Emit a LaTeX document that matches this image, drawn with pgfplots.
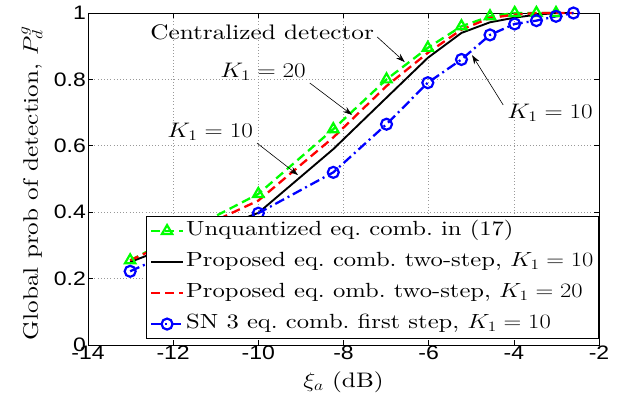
\documentclass[border=0pt]{standalone}
\usepackage{fix-cm}
\usepackage{graphicx}
\usepackage{pgfplots}
\pgfplotsset{compat=1.18}
\usepackage{fontspec}
\setmainfont{lmroman10-regular.otf}[FakeStretch=1.2]
\newfontfamily\arial{Liberation Sans}[FakeStretch=1.18]
\usetikzlibrary{arrows.meta}
% math is not stretched by FakeStretch, so widen it by hand
\newcommand{\m}[1]{\scalebox{1.2}[1]{$#1$}}

\begin{document}
\begin{tikzpicture}
\begin{axis}[
  name=ax,
  scale only axis,
  width=511pt, height=332pt,
  xmin=-14, xmax=-2, ymin=0, ymax=1,
  xtick={-14,-12,-10,-8,-6,-4,-2},
  ytick={0,0.2,0.4,0.6,0.8,1},
  xticklabels={-14,-12,-10,-8,-6,-4,-2},
  yticklabels={0,0.2,0.4,0.6,0.8,1},
  ticklabel style={font=\fontsize{19.5}{21}\arial},
  xticklabel style={inner sep=1pt},
  yticklabel style={inner sep=2pt},
  tick align=inside,
  major tick length=5pt,
  tick style={black, line width=0.6pt},
  grid=major,
  grid style={dash pattern=on 0.6pt off 2.6pt, black!40, line width=0.6pt},
  axis line style={line width=0.9pt},
  xlabel={\m{\xi_a} (dB)},
  ylabel={Global prob of detection, \m{P_d^g}},
  label style={font=\fontsize{21}{24}\selectfont},
  xlabel style={at={(axis description cs:0.5,-0.111)}, anchor=center},
  ylabel style={at={(axis description cs:-0.1096,0.487)}, anchor=center},
  clip=false,
  legend cell align=left,
  legend image code/.code={\draw[mark repeat=2,mark phase=2] plot coordinates {(0pt,0pt)(16pt,0pt)(32pt,0pt)};},
  legend style={at={(axis description cs:1,0.018)}, anchor=south east,
    font=\fontsize{20.5}{22}\selectfont, draw=black, line width=0.9pt,
    row sep=8pt, inner sep=3pt,
    nodes={text height=14pt, text depth=5pt, inner sep=2pt}},
]
\addplot[green, line width=2.3pt, dash pattern=on 9pt off 5pt,
  mark=triangle, mark size=6pt, mark options={solid, line width=2.2pt}]
  coordinates {(-13.01,0.255) (-10,0.455) (-8.24,0.65) (-6.99,0.80) (-6.02,0.895)
    (-5.23,0.96) (-4.56,0.99) (-3.98,1.0) (-3.47,1.0) (-3.01,1.0)};
\addlegendentry{Unquantized eq.\ comb.\ in (17)}
\addplot[black, line width=1.9pt]
  coordinates {(-13.01,0.25) (-10,0.398) (-8.24,0.59) (-6.99,0.745) (-6.02,0.865)
    (-5.23,0.94) (-4.56,0.972) (-3.98,0.986) (-3.47,0.995) (-3.01,1.0) (-2.60,1.0)};
\addlegendentry{Proposed eq.\ comb.\ two-step, \m{K_1=10}}
\addplot[red, line width=2.3pt, dash pattern=on 9pt off 5pt]
  coordinates {(-13.01,0.255) (-10,0.435) (-8.24,0.625) (-6.99,0.78) (-6.02,0.88)
    (-5.23,0.95) (-4.56,0.985) (-3.98,0.995) (-3.47,1.0) (-3.01,1.0) (-2.60,1.0)};
\addlegendentry{Proposed eq.\ omb.\ two-step, \m{K_1=20}}
\addplot[blue, line width=2.3pt, dash pattern=on 10pt off 4pt on 2pt off 4pt,
  mark=o, mark size=5.5pt, mark options={solid, line width=2.2pt}]
  coordinates {(-13.01,0.222) (-10,0.397) (-8.24,0.52) (-6.99,0.665) (-6.02,0.79)
    (-5.23,0.86) (-4.56,0.934) (-3.98,0.967) (-3.47,0.977) (-3.01,0.99) (-2.60,1.0)};
\addlegendentry{SN 3 eq.\ comb.\ first step, \m{K_1=10}}

\node[font=\fontsize{21}{24}\selectfont] at (axis cs:-9.91,0.943) {Centralized detector};
\draw[-{Stealth[length=9pt,width=6pt]}, line width=0.6pt] (axis cs:-7.21,0.928) -- (axis cs:-6.56,0.852);
\node[font=\fontsize{21}{24}\selectfont] at (axis cs:-9.89,0.822) {\m{K_1=20}};
\draw[-{Stealth[length=9pt,width=6pt]}, line width=0.6pt] (axis cs:-8.79,0.789) -- (axis cs:-7.80,0.693);
\node[font=\fontsize{21}{24}\selectfont] at (axis cs:-11.13,0.642) {\m{K_1=10}};
\draw[-{Stealth[length=9pt,width=6pt]}, line width=0.6pt] (axis cs:-10.03,0.608) -- (axis cs:-9.07,0.512);
\node[font=\fontsize{21}{24}\selectfont] at (axis cs:-3.15,0.699) {\m{K_1=10}};
\draw[-{Stealth[length=9pt,width=6pt]}, line width=0.6pt] (axis cs:-4.25,0.723) -- (axis cs:-4.98,0.873);
\end{axis}
\path ([shift={(-88pt,-62pt)}]ax.south west) rectangle ([shift={(29pt,13pt)}]ax.north east);
\end{tikzpicture}
\end{document}
